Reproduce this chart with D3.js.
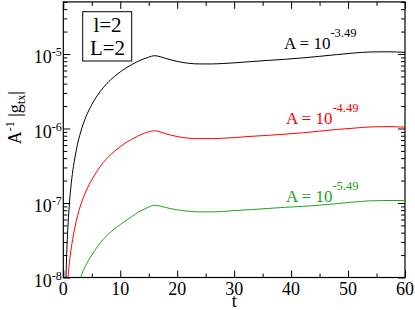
<!DOCTYPE html>
<html>
<head>
<meta charset="utf-8">
<script src="https://cdn.jsdelivr.net/npm/d3@7"></script>
<style>
    body { margin: 0; background: #fff; }
</style>
</head>
<body>
<div id="chart"></div>
<script>
// Données
const tBlack = [0.3, 0.47, 0.6, 0.8, 1, 1.3, 1.7, 2, 2.5, 3, 3.5, 4, 5, 6, 7, 8, 9, 10, 11, 12, 13, 14, 15, 16, 17, 18, 19, 20, 22, 24, 26, 28, 30, 33, 36, 39, 42, 45, 48, 51, 54, 57, 60];
const gBlack = [2.6e-9, 1.0e-8, 2.09e-8, 4.68e-8, 8.32e-8, 1.55e-7, 2.82e-7, 3.89e-7, 6.17e-7, 8.71e-7, 1.15e-6, 1.45e-6, 2.09e-6, 2.79e-6, 3.51e-6, 4.27e-6, 5.01e-6, 5.75e-6, 6.49e-6, 7.19e-6, 7.89e-6, 8.51e-6, 9.08e-6, 9.48e-6, 9.2e-6, 8.7e-6, 8.3e-6, 7.95e-6, 7.5e-6, 7.35e-6, 7.35e-6, 7.45e-6, 7.6e-6, 7.9e-6, 8.2e-6, 8.5e-6, 8.85e-6, 9.3e-6, 9.8e-6, 1.03e-5, 1.065e-5, 1.07e-5, 1.05e-5];

const tRed = [0.6, 0.82, 1, 1.3, 1.75, 2, 2.5, 3, 3.5, 4, 5, 6, 7, 8, 9, 10, 11, 12, 13, 14, 15, 16, 17, 18, 19, 20, 22, 24, 26, 28, 30, 33, 36, 39, 42, 45, 48, 51, 54, 57, 60];
const gRed = [5.6e-9, 1.0e-8, 1.41e-8, 2.19e-8, 3.63e-8, 4.57e-8, 6.76e-8, 9.12e-8, 1.17e-7, 1.45e-7, 2.04e-7, 2.72e-7, 3.47e-7, 4.22e-7, 4.95e-7, 5.69e-7, 6.46e-7, 7.16e-7, 7.85e-7, 8.51e-7, 9.02e-7, 9.33e-7, 9.0e-7, 8.5e-7, 8.1e-7, 7.8e-7, 7.4e-7, 7.3e-7, 7.3e-7, 7.4e-7, 7.55e-7, 7.85e-7, 8.1e-7, 8.4e-7, 8.75e-7, 9.2e-7, 9.7e-7, 1.01e-6, 1.05e-6, 1.06e-6, 1.04e-6];

const tGreen = [2.5, 3.05, 4, 5, 6, 7, 8, 9, 10, 11, 12, 13, 14, 15, 16, 17, 18, 19, 20, 22, 24, 26, 28, 30, 33, 36, 39, 42, 45, 48, 51, 54, 57, 60];
const gGreen = [7.1e-9, 1.0e-8, 1.48e-8, 2.0e-8, 2.6e-8, 3.24e-8, 3.89e-8, 4.52e-8, 5.13e-8, 5.82e-8, 6.53e-8, 7.41e-8, 8.13e-8, 8.81e-8, 9.33e-8, 9.1e-8, 8.7e-8, 8.35e-8, 8.1e-8, 7.75e-8, 7.6e-8, 7.6e-8, 7.7e-8, 7.9e-8, 8.15e-8, 8.45e-8, 8.75e-8, 9.0e-8, 9.35e-8, 9.8e-8, 1.03e-7, 1.07e-7, 1.08e-7, 1.08e-7];

const xMajor = [0, 10, 20, 30, 40, 50, 60];
const xMinor = [5, 15, 25, 35, 45, 55];
const yMajor = [1e-8, 1e-7, 1e-6, 1e-5];
const yExponents = ["-8", "-7", "-6", "-5"];
const seriesExponents = ["-3.49", "-4.49", "-5.49"];
const legendLines = ["l=2", "L=2"];

const width = 415, height = 310;
const margin = { top: 1.9, right: 10, bottom: 32.5, left: 63.3 };

const svg = d3.select("#chart").append("svg")
    .attr("width", width).attr("height", height)
    .attr("font-family", "'Liberation Serif', 'Times New Roman', serif");

const x = d3.scaleLinear().domain([0, 60]).range([margin.left, width - margin.right]);
const y = d3.scaleLog().domain([1e-8, 5e-5]).range([height - margin.bottom, margin.top]);

svg.append("clipPath").attr("id", "clip")
    .append("rect")
    .attr("x", x(0)).attr("y", y(5e-5))
    .attr("width", x(60) - x(0)).attr("height", y(1e-8) - y(5e-5));

// Graduations (vers l'intérieur, sur les 4 côtés)
function ticks(axis, transform, size, values) {
    const g = svg.append("g")
        .attr("transform", transform)
        .call(axis.tickValues(values).tickSize(size).tickSizeOuter(0).tickFormat(""));
    g.select(".domain").remove();
    g.selectAll("line").attr("stroke", "#000").attr("stroke-width", 1);
    return g;
}
const yMinor = y.ticks().filter(v => !yMajor.some(m => Math.abs(m - v) / m < 1e-6));

ticks(d3.axisBottom(x), `translate(0,${y(1e-8)})`, -7, xMajor);
ticks(d3.axisBottom(x), `translate(0,${y(1e-8)})`, -4, xMinor);
ticks(d3.axisTop(x), `translate(0,${y(5e-5)})`, -7, xMajor);
ticks(d3.axisTop(x), `translate(0,${y(5e-5)})`, -4, xMinor);
ticks(d3.axisLeft(y), `translate(${x(0)},0)`, -7, yMajor);
ticks(d3.axisLeft(y), `translate(${x(0)},0)`, -4, yMinor);
ticks(d3.axisRight(y), `translate(${x(60)},0)`, -7, yMajor);
ticks(d3.axisRight(y), `translate(${x(60)},0)`, -4, yMinor);

svg.append("rect")
    .attr("x", x(0)).attr("y", y(5e-5))
    .attr("width", x(60) - x(0)).attr("height", y(1e-8) - y(5e-5))
    .attr("fill", "none").attr("stroke", "#000").attr("stroke-width", 1.2);

// Étiquettes des axes
svg.append("g").selectAll("text")
    .data(xMajor)
    .enter().append("text")
    .attr("x", d => x(d)).attr("y", y(1e-8) + 17)
    .attr("text-anchor", "middle")
    .style("font-size", "18px")
    .text(d => d);

const yLab = svg.append("g").selectAll("text")
    .data(yMajor)
    .enter().append("text")
    .attr("x", x(0) - 1.5).attr("y", d => y(d) + 9.5)
    .attr("text-anchor", "end")
    .style("font-size", "18px");
yLab.append("tspan").text("10");
yLab.append("tspan").attr("dy", -7).style("font-size", "12px").text((d, i) => yExponents[i]);

svg.append("text")
    .attr("x", x(30)).attr("y", height - 3.5)
    .attr("text-anchor", "middle")
    .style("font-size", "18px")
    .text("t");

const yTitle = svg.append("text")
    .attr("transform", `translate(21,${(y(1e-8) + y(5e-5)) / 2 - 22}) rotate(-90)`)
    .attr("text-anchor", "middle")
    .style("font-size", "18px");
yTitle.append("tspan").text("A");
yTitle.append("tspan").attr("dy", -7).style("font-size", "12px").text("-1");
yTitle.append("tspan").attr("dy", 7).text(" |g");
yTitle.append("tspan").attr("dy", 4).style("font-size", "12px").text("tx");
yTitle.append("tspan").attr("dy", -4).text("|");

// Courbes
const series = [
    { t: tBlack, g: gBlack, color: "#000000" },
    { t: tRed, g: gRed, color: "#ff0000" },
    { t: tGreen, g: gGreen, color: "#22a022" }
];
const line = d3.line()
    .x(d => x(d[0])).y(d => y(d[1]))
    .curve(d3.curveMonotoneX);

svg.append("g").attr("clip-path", "url(#clip)")
    .selectAll("path")
    .data(series)
    .enter().append("path")
    .attr("d", s => line(s.t.map((t, i) => [t, s.g[i]])))
    .attr("fill", "none")
    .attr("stroke", s => s.color)
    .attr("stroke-width", 1);

// Annotations A = 10^...
const labelPos = [[284, 49.3], [286, 124], [286, 201.7]];
const ann = svg.append("g").selectAll("text")
    .data(series)
    .enter().append("text")
    .attr("x", (d, i) => labelPos[i][0]).attr("y", (d, i) => labelPos[i][1])
    .attr("fill", d => d.color)
    .style("font-size", "17px");
ann.append("tspan").text("A = 10");
ann.append("tspan").attr("dy", -12).style("font-size", "12.5px").text((d, i) => seriesExponents[i]);

// Légende
svg.append("rect")
    .attr("x", 82.7).attr("y", 11.7).attr("width", 49).attr("height", 49.3)
    .attr("fill", "#fff").attr("stroke", "#000").attr("stroke-width", 1);
svg.append("g").selectAll("text")
    .data(legendLines)
    .enter().append("text")
    .attr("x", 107.5).attr("y", (d, i) => 31.7 + i * 23.3)
    .attr("text-anchor", "middle")
    .style("font-size", "21px")
    .text(d => d);
</script>
</body>
</html>
